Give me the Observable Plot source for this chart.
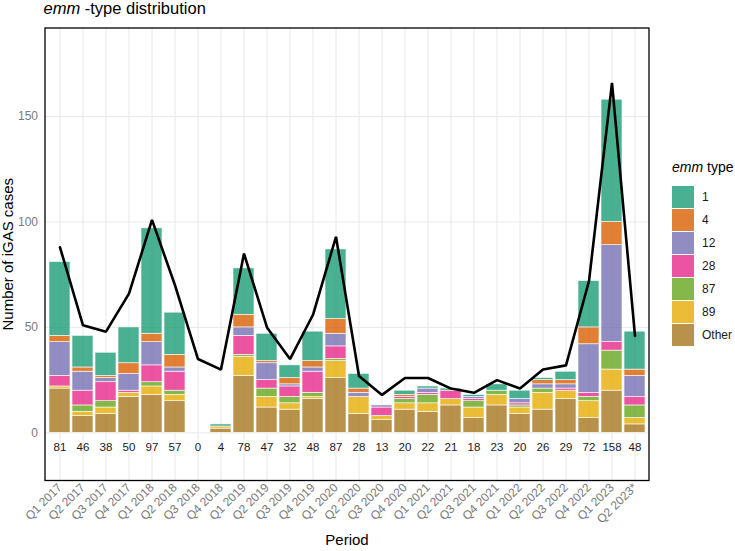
<!DOCTYPE html>
<html>
<head>
<meta charset="utf-8">
<script src="https://cdn.jsdelivr.net/npm/d3@7"></script>
<script src="https://cdn.jsdelivr.net/npm/@observablehq/plot@0.6"></script>
<style>
  body { margin: 0; background: #fff; font-family: "Liberation Sans", Arial, sans-serif; }
  #wrap { position: relative; width: 735px; height: 551px; overflow: hidden; }
  #wrap svg { position: absolute; left: 0; top: 0; }
  #title { position: absolute; left: 43.5px; top: 0; font-size: 16.5px; line-height: 16.5px; color: #000; white-space: nowrap; }
  #legend { position: absolute; left: 0; top: 0; width: 735px; height: 551px; }
  #legend .lt { position: absolute; left: 672px; top: 159px; font-size: 14px; line-height: 16px; white-space: nowrap; color: #000; }
  #legend .sw { position: absolute; left: 672.3px; width: 21.5px; height: 21.5px; }
  #legend .lab { position: absolute; left: 702px; font-size: 12px; line-height: 14px; color: #1a1a1a; white-space: nowrap; }
</style>
</head>
<body>
<div id="wrap">
  <div id="title"><i>emm</i> -type distribution</div>
  <div id="legend"></div>
</div>
<script>
// Reporting quarters
const periods = ["Q1 2017","Q2 2017","Q3 2017","Q4 2017","Q1 2018","Q2 2018","Q3 2018","Q4 2018",
  "Q1 2019","Q2 2019","Q3 2019","Q4 2019","Q1 2020","Q2 2020","Q3 2020","Q4 2020",
  "Q1 2021","Q2 2021","Q3 2021","Q4 2021","Q1 2022","Q2 2022","Q3 2022","Q4 2022",
  "Q1 2023","Q2 2023*"];

// emm types (legend order) and their colours
const types = ["1","4","12","28","87","89","Other"];
const typeColors = ["#1B9E77","#D95F02","#7570B3","#E7298A","#66A61E","#E6AB02","#A6761D"];

// Case counts per emm type and quarter
const emm1     = [35,15,11,17,50,20,0,1,22,13,6,14,33,7,0,2,1,1,1,3,4,1,4,22,58,18];
const emm4     = [3,2,1,5,4,6,0,0,6,1,3,3,7,2,0,1,0,0,0,0,0,2,2,8,11,3];
const emm12    = [16,9,2,8,11,2,0,0,4,8,1,2,6,2,1,0,2,0,1,0,2,2,2,23,46,10];
const emm28    = [5,7,9,1,8,9,0,0,9,4,5,10,6,0,4,1,1,4,1,0,1,0,1,2,4,4];
const emm87    = [0,3,3,0,2,2,0,0,1,4,3,2,1,0,0,2,4,0,3,2,1,2,0,2,9,6];
const emm89    = [1,2,3,2,4,3,0,1,9,5,3,1,8,8,2,3,4,3,5,5,3,8,4,8,10,3];
const emmOther = [21,8,9,17,18,15,0,2,27,12,11,16,26,9,6,11,10,13,7,13,9,11,16,7,20,4];

// Total cases per quarter (printed under each bar)
const totals = [81,46,38,50,97,57,0,4,78,47,32,48,87,28,13,20,22,21,18,23,20,26,29,72,158,48];

// Comparison line
const lineValues = [88,51,48,66,101,70,35,30,85,50,35,56,93,27,18,26,26,21,19,25,21,30,32,72,166,46];

// Long table, stacked from the bottom: Other, 89, 87, 28, 12, 4, 1
const stackOrder = [["Other", emmOther],["89", emm89],["87", emm87],["28", emm28],["12", emm12],["4", emm4],["1", emm1]];
const segments = [];
periods.forEach((p, i) => {
  for (const [type, values] of stackOrder) {
    if (values[i] > 0) segments.push({period: p, type, value: values[i]});
  }
});
const lineData = periods.map((p, i) => ({period: p, value: lineValues[i]}));
const totalData = periods.map((p, i) => ({period: p, total: totals[i]}));

const font = "Liberation Sans, Arial, sans-serif";

const chart = Plot.plot({
  width: 735,
  height: 551,
  marginLeft: 44.5,
  marginRight: 86.5,
  marginTop: 27.5,
  marginBottom: 71,
  style: {fontFamily: font, background: "transparent"},
  x: {type: "band", domain: periods, paddingInner: 0.1, paddingOuter: 0.15},
  y: {domain: [-22.6, 192]},
  color: {domain: types, range: typeColors},
  marks: [
    Plot.gridY([0, 50, 100, 150], {stroke: "#e8e8e8", strokeOpacity: 1, strokeWidth: 1}),
    Plot.gridX(periods, {stroke: "#e8e8e8", strokeOpacity: 1, strokeWidth: 1}),
    Plot.barY(segments, {
      x: "period", y: "value", fill: "type", fillOpacity: 0.8,
      stroke: "white", strokeWidth: 0.6
    }),
    Plot.line(lineData, {x: "period", y: "value", stroke: "black", strokeWidth: 2.6, strokeLinejoin: "miter"}),
    Plot.text(totalData, {x: "period", y: -7, text: d => String(d.total), fill: "#1a1a1a", fontSize: 11.5}),
    Plot.axisY({ticks: [0, 50, 100, 150], tickSize: 0, tickPadding: 7, fontSize: 12, color: "#7a7a7a", label: null}),
    Plot.axisX({tickSize: 0, tickRotate: -45, tickPadding: 5, fontSize: 12, color: "#7a7a7a", label: null}),
    Plot.text(["Number of iGAS cases"], {frameAnchor: "left", textAnchor: "middle", dx: -37, rotate: -90, fontSize: 15, fill: "#000"}),
    Plot.text(["Period"], {frameAnchor: "bottom", textAnchor: "middle", dy: 64, fontSize: 15, fill: "#000"}),
    Plot.frame({stroke: "black", strokeWidth: 1.3})
  ]
});
document.getElementById("wrap").prepend(chart);

// Legend for the emm types
const legend = document.getElementById("legend");
const lt = document.createElement("div");
lt.className = "lt";
lt.innerHTML = "<i>emm</i> type";
legend.appendChild(lt);
types.forEach((t, i) => {
  const top = 186 + i * 23;
  const sw = document.createElement("div");
  sw.className = "sw";
  sw.style.top = top + "px";
  sw.style.background = typeColors[i];
  sw.style.opacity = 0.8;
  const lab = document.createElement("div");
  lab.className = "lab";
  lab.style.top = (top + 4) + "px";
  lab.textContent = t;
  legend.appendChild(sw);
  legend.appendChild(lab);
});
</script>
</body>
</html>
